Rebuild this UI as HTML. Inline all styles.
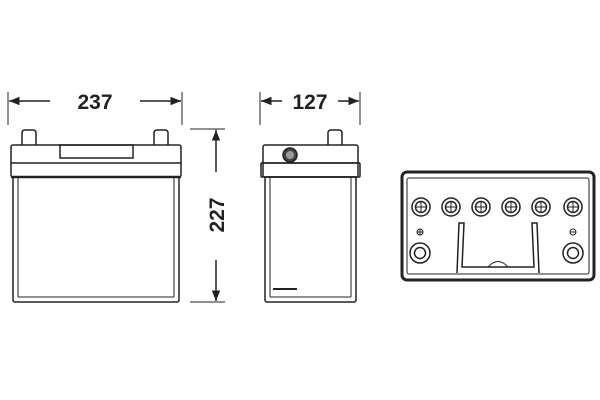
<!DOCTYPE html>
<html><head><style>body{margin:0;background:#fff}svg{display:block}</style></head><body>
<svg width="600" height="400" viewBox="0 0 600 400" xmlns="http://www.w3.org/2000/svg" fill="none" stroke="#222" stroke-width="1.5">
<defs><marker id="a" viewBox="0 0 10 10" refX="10" refY="5" markerWidth="7" markerHeight="7" orient="auto-start-reverse"><path d="M0,1 L10,5 L0,9 z" fill="#222" stroke="none"/></marker></defs>
<!-- 237 dim -->
<line x1="8" y1="92" x2="8" y2="125" stroke-width="1"/><line x1="182" y1="92" x2="182" y2="125" stroke-width="1"/>
<line x1="50" y1="101" x2="9" y2="101" marker-end="url(#a)"/><line x1="140" y1="101" x2="181" y2="101" marker-end="url(#a)"/>
<text x="95" y="109" text-anchor="middle" font-family="Liberation Sans" font-weight="bold" font-size="21" fill="#222" stroke="none">237</text>
<!-- front battery -->
<path d="M22,145 V133 Q22,130 25,130 H33 Q36,130 36,133 V145 M154,145 V133 Q154,130 157,130 H165 Q168,130 168,133 V145"/>
<rect x="11" y="145" width="170" height="32" rx="2"/>
<line x1="11" y1="163" x2="181" y2="163"/><line x1="11" y1="177" x2="181" y2="177" stroke-width="2.5"/>
<rect x="60" y="145" width="73" height="13"/>
<rect x="13" y="177" width="166" height="125" rx="2"/>
<line x1="18" y1="177" x2="18" y2="297" stroke-width="1"/><line x1="174" y1="177" x2="174" y2="297" stroke-width="1"/><line x1="18" y1="297" x2="174" y2="297" stroke-width="1"/>
<!-- 227 dim -->
<line x1="190" y1="129" x2="225" y2="129" stroke-width="1"/><line x1="190" y1="302" x2="225" y2="302" stroke-width="1"/>
<line x1="216" y1="172" x2="216" y2="130" marker-end="url(#a)"/><line x1="216" y1="260" x2="216" y2="301" marker-end="url(#a)"/>
<text transform="translate(224,215) rotate(-90)" text-anchor="middle" font-family="Liberation Sans" font-weight="bold" font-size="21" fill="#222" stroke="none">227</text>
<!-- 127 dim -->
<line x1="260" y1="92" x2="260" y2="125" stroke-width="1"/><line x1="360" y1="92" x2="360" y2="125" stroke-width="1"/>
<line x1="282" y1="101" x2="261" y2="101" marker-end="url(#a)"/><line x1="338" y1="101" x2="359" y2="101" marker-end="url(#a)"/>
<text x="310" y="109" text-anchor="middle" font-family="Liberation Sans" font-weight="bold" font-size="21" fill="#222" stroke="none">127</text>
<!-- side battery -->
<path d="M328,145 V133 Q328,130 331,130 H339 Q342,130 342,133 V145"/>
<rect x="263" y="145" width="95" height="32" rx="2"/>
<line x1="261" y1="163" x2="360" y2="163"/><rect x="261" y="163" width="99" height="14" rx="1"/>
<circle cx="290" cy="155" r="7" fill="#444"/><circle cx="290" cy="155" r="4" fill="#999" stroke="none"/>
<rect x="265" y="177" width="91" height="125" rx="2"/>
<line x1="270" y1="177" x2="270" y2="297" stroke-width="1"/><line x1="351" y1="177" x2="351" y2="297" stroke-width="1"/><line x1="270" y1="297" x2="351" y2="297" stroke-width="1"/>
<line x1="273" y1="289" x2="297" y2="289" stroke-width="2"/>
<!-- top view -->
<rect x="402" y="172" width="192" height="108" rx="5" stroke-width="3"/>
<rect x="407" y="178" width="182" height="96" rx="2" stroke-width="1"/>
<g stroke-width="1.5">
<circle cx="421" cy="207" r="9"/><circle cx="421" cy="207" r="5.5"/>
<circle cx="451" cy="207" r="9"/><circle cx="451" cy="207" r="5.5"/>
<circle cx="481" cy="207" r="9"/><circle cx="481" cy="207" r="5.5"/>
<circle cx="511" cy="207" r="9"/><circle cx="511" cy="207" r="5.5"/>
<circle cx="541" cy="207" r="9"/><circle cx="541" cy="207" r="5.5"/>
<circle cx="573" cy="207" r="9"/><circle cx="573" cy="207" r="5.5"/>
<path d="M416,207h10M421,202v10M446,207h10M451,202v10M476,207h10M481,202v10M506,207h10M511,202v10M536,207h10M541,202v10M568,207h10M573,202v10" stroke-width="1"/>
<circle cx="420" cy="253" r="10"/><circle cx="420" cy="253" r="5.5"/>
<circle cx="573" cy="253" r="10"/><circle cx="573" cy="253" r="5.5"/>
<circle cx="420" cy="232" r="3" stroke-width="1"/><path d="M417,232h6M420,229v6" stroke-width="1"/>
<circle cx="573" cy="232" r="3" stroke-width="1"/><path d="M570,232h6" stroke-width="1"/>
<path d="M457,273 L459,223 H464 L462,267 H534 L532,223 H537 L539,273"/>
<path d="M488,267 Q498,256 508,267" stroke-width="1"/>
</g>
</svg>
</body></html>
